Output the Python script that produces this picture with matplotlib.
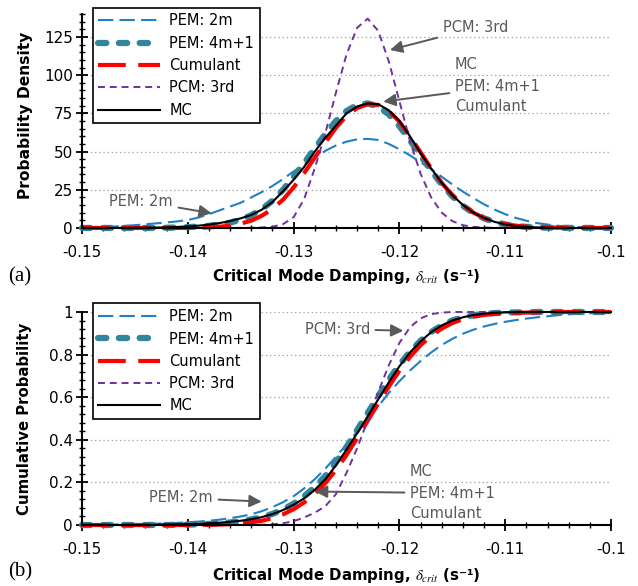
import matplotlib
matplotlib.use("Agg")
import matplotlib.pyplot as plt
from matplotlib.ticker import MultipleLocator, FixedLocator

plt.rcParams['font.family'] = ['DejaVu Sans']
plt.rcParams['mathtext.fontset'] = 'stix'
plt.rcParams['lines.scale_dashes'] = False

# ---------------- data ----------------
x_vals = [-0.150, -0.149, -0.148, -0.147, -0.146, -0.145, -0.144, -0.143, -0.142, -0.141,
          -0.140, -0.139, -0.138, -0.137, -0.136, -0.135, -0.134, -0.133, -0.132, -0.131,
          -0.130, -0.129, -0.128, -0.127, -0.126, -0.125, -0.124, -0.123, -0.122, -0.121,
          -0.120, -0.119, -0.118, -0.117, -0.116, -0.115, -0.114, -0.113, -0.112, -0.111,
          -0.110, -0.109, -0.108, -0.107, -0.106, -0.105, -0.104, -0.103, -0.102, -0.101,
          -0.100]

pdf_pem2m = [0.3, 0.4, 0.6, 0.9, 1.3, 1.8, 2.4, 3.0, 3.6, 4.3,
             5.2, 6.8, 9.0, 11.5, 14, 16.5, 20, 23.5, 27.5, 32,
             37, 41.5, 46, 50.5, 54, 56.5, 58, 58.3, 57.6, 55,
             51.5, 47.5, 43, 38.5, 33.5, 28.5, 23.8, 19.5, 15.5, 12,
             9, 6.6, 4.7, 3.2, 2.2, 1.4, 0.9, 0.55, 0.35, 0.2,
             0.1]
pdf_pem4m1 = [0, 0, 0, 0, 0, 0, 0, 0, 0.15, 0.3,
              0.55, 0.9, 1.4, 2.3, 3.5, 5.5, 8.3, 12.3, 17.8, 25,
              33.5, 42.5, 52, 61.5, 70, 76.5, 80.5, 81.5, 79.5, 74.3,
              66.7, 57.4, 47.4, 37.5, 28.5, 20.8, 14.5, 9.7, 6.3, 3.9,
              2.3, 1.3, 0.7, 0.37, 0.18, 0.09, 0.04, 0.02, 0, 0,
              0]
pdf_cumulant = [0, 0, 0, 0, 0, 0, 0, 0, 0, 0,
                0.1, 0.2, 0.4, 0.8, 1.5, 2.8, 4.8, 8, 12.5, 18.5,
                26.5, 36, 46, 56, 65.5, 73.5, 78.5, 81, 80.5, 76.5,
                69.5, 60, 49.5, 39, 29.5, 21.5, 15, 10, 6.5, 4,
                2.5, 1.5, 0.9, 0.5, 0.3, 0.15, 0.08, 0.04, 0.02, 0,
                0]
pdf_pcm3 = [0, 0, 0, 0, 0, 0, 0, 0, 0, 0,
            0, 0, 0, 0, 0, 0.05, 0.1, 0.3, 0.8, 2.5,
            7, 19, 39, 62, 88.5, 113.5, 131, 137, 129, 109,
            83, 57, 35.5, 20, 10, 4.5, 1.8, 0.7, 0.25, 0.08,
            0, 0, 0, 0, 0, 0, 0, 0, 0, 0,
            0]
pdf_mc = [0, 0, 0, 0, 0.05, 0.1, 0.15, 0.25, 0.4, 0.6,
          1.0, 1.5, 2.2, 3.2, 4.5, 6.3, 8.5, 12, 17, 24,
          31.5, 40, 50, 59, 67, 75, 79.5, 81.5, 81, 77,
          70, 60, 49, 39, 29.5, 21.5, 15, 10, 6.5, 4,
          2.3, 1.3, 0.7, 0.35, 0.15, 0.05, 0, 0, 0, 0,
          0]

cdf_pem2m = [0.001, 0.001, 0.002, 0.002, 0.003, 0.004, 0.005, 0.006, 0.008, 0.010,
             0.013, 0.016, 0.020, 0.025, 0.032, 0.040, 0.050, 0.065, 0.084, 0.107,
             0.135, 0.172, 0.215, 0.265, 0.320, 0.378, 0.438, 0.498, 0.557, 0.620,
             0.675, 0.725, 0.770, 0.810, 0.845, 0.874, 0.898, 0.917, 0.932, 0.944,
             0.954, 0.962, 0.969, 0.975, 0.980, 0.985, 0.989, 0.992, 0.994, 0.996,
             0.997]
cdf_pem4m1 = [0, 0, 0, 0, 0, 0, 0, 0, 0, 0.001,
              0.002, 0.003, 0.005, 0.008, 0.012, 0.018, 0.026, 0.037, 0.052, 0.073,
              0.100, 0.135, 0.178, 0.230, 0.294, 0.366, 0.445, 0.525, 0.605, 0.682,
              0.752, 0.813, 0.865, 0.906, 0.937, 0.960, 0.975, 0.985, 0.991, 0.995,
              0.997, 0.998, 0.999, 1, 1, 1, 1, 1, 1, 1,
              1]
cdf_cumulant = [0, 0, 0, 0, 0, 0, 0, 0, 0, 0,
                0, 0.001, 0.001, 0.002, 0.004, 0.007, 0.012, 0.020, 0.032, 0.050,
                0.074, 0.106, 0.147, 0.197, 0.258, 0.329, 0.407, 0.489, 0.571, 0.650,
                0.724, 0.789, 0.844, 0.888, 0.922, 0.948, 0.966, 0.978, 0.986, 0.991,
                0.994, 0.996, 0.997, 0.998, 0.999, 1, 1, 1, 1, 1,
                1]
cdf_pcm3 = [0, 0, 0, 0, 0, 0, 0, 0, 0, 0,
            0, 0, 0, 0, 0, 0, 0, 0.001, 0.003, 0.008,
            0.018, 0.035, 0.058, 0.088, 0.145, 0.245, 0.360, 0.490, 0.625, 0.750,
            0.855, 0.928, 0.970, 0.990, 0.997, 1, 1, 1, 1, 1,
            1, 1, 1, 1, 1, 1, 1, 1, 1, 1,
            1]
cdf_mc = [0, 0, 0, 0, 0, 0, 0, 0.001, 0.002, 0.003,
          0.004, 0.006, 0.008, 0.011, 0.015, 0.020, 0.027, 0.037, 0.051, 0.070,
          0.095, 0.125, 0.165, 0.215, 0.280, 0.354, 0.430, 0.510, 0.590, 0.670,
          0.745, 0.810, 0.862, 0.905, 0.937, 0.960, 0.975, 0.986, 0.992, 0.996,
          0.998, 0.999, 1, 1, 1, 1, 1, 1, 1, 1,
          1]

labels = ["PEM: 2m", "PEM: 4m+1", "Cumulant", "PCM: 3rd", "MC"]
x_ticks = [-0.15, -0.14, -0.13, -0.12, -0.11, -0.10]
x_ticklabels = ["-0.15", "-0.14", "-0.13", "-0.12", "-0.11", "-0.1"]
pdf_ticks = [0, 25, 50, 75, 100, 125]
cdf_ticks = [0, 0.2, 0.4, 0.6, 0.8, 1.0]
cdf_ticklabels = ["0", "0.2", "0.4", "0.6", "0.8", "1"]

# ---------------- styles ----------------
styles = [
    dict(color='#1f7fc9', lw=1.5, dashes=(11, 4.5)),
    dict(color='#31869b', lw=4.5, dashes=(6, 9), dash_capstyle='round',
         solid_capstyle='round'),
    dict(color='#ff0000', lw=3.0, dashes=(20, 9)),
    dict(color='#7030a0', lw=1.4, dashes=(5, 3.5)),
    dict(color='#000000', lw=1.5, linestyle='-'),
]

GRAY = '#595959'
FS = 10.5

fig = plt.figure(figsize=(6.38, 5.86), dpi=100)
ax1 = fig.add_axes([0.1285, 0.611, 0.8292, 0.365])
ax2 = fig.add_axes([0.1285, 0.1041, 0.8292, 0.3635])

def style_axes(ax, yticks, yticklabels, ymax, yminor):
    ax.set_xlim(-0.15, -0.10)
    ax.set_ylim(0, ymax)
    for s in ['top', 'right']:
        ax.spines[s].set_visible(False)
    for s in ['left', 'bottom']:
        ax.spines[s].set_linewidth(1.5)
        ax.spines[s].set_color('black')
    ax.xaxis.set_major_locator(FixedLocator(x_ticks))
    ax.set_xticklabels(x_ticklabels)
    ax.xaxis.set_minor_locator(MultipleLocator(0.002))
    ax.yaxis.set_major_locator(FixedLocator(yticks))
    ax.set_yticklabels(yticklabels)
    ax.yaxis.set_minor_locator(MultipleLocator(yminor))
    ax.tick_params(which='major', direction='inout', length=9, width=1.3,
                   labelsize=11, color='black')
    ax.tick_params(which='minor', direction='inout', length=5, width=1.0, color='black')
    ax.tick_params(axis='x', which='major', pad=7.5)
    ax.tick_params(axis='y', which='major', pad=2)
    for yt in yticks[1:]:
        ax.axhline(yt, color='#a6a6a6', lw=0.9, linestyle=(0, (1, 2)), zorder=0)
    ax.set_xlabel("Critical Mode Damping, $\\delta_{crit}$ (s\u207b\u00b9)",
                  fontsize=10.8, fontweight='bold')

def draw(ax, series):
    for ys, st, lab in zip(series, styles, labels):
        ax.plot(x_vals, ys, label=lab, clip_on=False, **st)

draw(ax1, [pdf_pem2m, pdf_pem4m1, pdf_cumulant, pdf_pcm3, pdf_mc])
draw(ax2, [cdf_pem2m, cdf_pem4m1, cdf_cumulant, cdf_pcm3, cdf_mc])

style_axes(ax1, pdf_ticks, [str(t) for t in pdf_ticks], 140, 5)
style_axes(ax2, cdf_ticks, cdf_ticklabels, 1.0, 0.04)
ax1.set_ylabel("Probability Density", fontsize=11.2, fontweight='bold')
ax2.set_ylabel("Cumulative Probability", fontsize=10.7, fontweight='bold')

ax1.xaxis.set_label_coords(0.5, -0.229)
ax2.xaxis.set_label_coords(0.5, -0.235)
ax1.yaxis.set_label_coords(-0.106, 0.528)
ax2.yaxis.set_label_coords(-0.108, 0.5)
for ax in (ax1, ax2):
    ax.xaxis.label.set_verticalalignment('center')
    ax.yaxis.label.set_verticalalignment('center')

for ax, anchor in [(ax1, (0.02, 1.03)), (ax2, (0.02, 1.04))]:
    leg = ax.legend(loc='upper left', bbox_to_anchor=anchor, borderaxespad=0,
                    fontsize=FS, handlelength=4.25, handletextpad=0.6,
                    labelspacing=0.5, fancybox=False, framealpha=1,
                    edgecolor='black', borderpad=0.4)
    leg.get_frame().set_linewidth(1.2)

arrow = dict(arrowstyle='-|>,head_length=0.7,head_width=0.35', color=GRAY, lw=1.4,
             shrinkA=2, shrinkB=0)
tk = dict(color=GRAY, fontsize=FS)

# top annotations
ax1.annotate("PEM: 2m", xy=(-0.13774, 9.6), xytext=(-0.1414, 17.5),
             ha='right', va='center', arrowprops=arrow, **tk)
ax1.annotate("PCM: 3rd", xy=(-0.12089, 116.5), xytext=(-0.1159, 131),
             ha='left', va='center', arrowprops=arrow, **tk)
ax1.text(-0.11475, 106.7, "MC", ha='left', va='center', **tk)
ax1.annotate("PEM: 4m+1", xy=(-0.12152, 82.7), xytext=(-0.11475, 92.3),
             ha='left', va='center', arrowprops=arrow, **tk)
ax1.text(-0.11475, 79.8, "Cumulant", ha='left', va='center', **tk)

# bottom annotations
ax2.annotate("PCM: 3rd", xy=(-0.11963, 0.912), xytext=(-0.12278, 0.92),
             ha='right', va='center', arrowprops=arrow, **tk)
ax2.annotate("PEM: 2m", xy=(-0.13302, 0.11), xytext=(-0.13762, 0.127),
             ha='right', va='center', arrowprops=arrow, **tk)
ax2.text(-0.119, 0.251, "MC", ha='left', va='center', **tk)
ax2.annotate("PEM: 4m+1", xy=(-0.12798, 0.157), xytext=(-0.119, 0.15),
             ha='left', va='center', arrowprops=arrow, **tk)
ax2.text(-0.119, 0.052, "Cumulant", ha='left', va='center', **tk)

fig.text(0.012, 0.527, "(a)", family='Liberation Serif', fontsize=15, va='center', ha='left')
fig.text(0.012, 0.024, "(b)", family='Liberation Serif', fontsize=15, va='center', ha='left')

fig.savefig("out.png", dpi=100)
